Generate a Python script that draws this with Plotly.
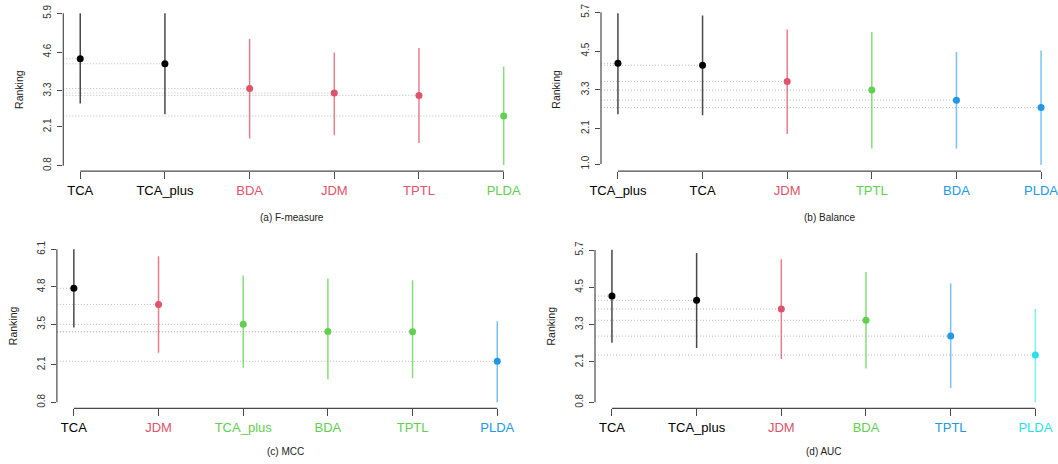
import plotly.graph_objects as go

# ---------------- data ----------------
a_methods = ["TCA", "TCA_plus", "BDA", "JDM", "TPTL", "PLDA"]
a_mean = [4.38, 4.21, 3.38, 3.23, 3.15, 2.46]
a_low = [2.88, 2.52, 1.71, 1.82, 1.56, 0.82]
a_high = [5.90, 5.90, 5.04, 4.59, 4.74, 4.12]
a_group = [1, 1, 2, 2, 2, 3]
a_ticks = ["0.8", "2.1", "3.3", "4.6", "5.9"]

b_methods = ["TCA_plus", "TCA", "JDM", "TPTL", "BDA", "PLDA"]
b_mean = [4.12, 4.06, 3.56, 3.29, 2.98, 2.75]
b_low = [2.54, 2.51, 1.93, 1.48, 1.48, 0.97]
b_high = [5.67, 5.60, 5.17, 5.09, 4.47, 4.52]
b_group = [1, 1, 2, 3, 4, 4]
b_ticks = ["1.0", "2.1", "3.3", "4.5", "5.7"]

c_methods = ["TCA", "JDM", "TCA_plus", "BDA", "TPTL", "PLDA"]
c_mean = [4.75, 4.19, 3.50, 3.25, 3.24, 2.22]
c_low = [3.39, 2.52, 2.00, 1.60, 1.63, 0.80]
c_high = [6.10, 5.86, 5.19, 5.09, 5.03, 3.61]
c_group = [1, 2, 3, 3, 3, 4]
c_ticks = ["0.8", "2.1", "3.5", "4.8", "6.1"]

d_methods = ["TCA", "TCA_plus", "JDM", "BDA", "TPTL", "PLDA"]
d_mean = [4.22, 4.08, 3.80, 3.44, 2.93, 2.32]
d_low = [2.72, 2.55, 2.19, 1.89, 1.26, 0.80]
d_high = [5.71, 5.60, 5.40, 4.99, 4.62, 3.80]
d_group = [1, 1, 2, 3, 4, 5]
d_ticks = ["0.8", "2.1", "3.3", "4.5", "5.7"]

titles = ["(a) F-measure", "(b) Balance", "(c) MCC", "(d) AUC"]
ylabel = "Ranking"

# ---------------- styling ----------------
W, H = 1058, 464
palette = {1: "#000000", 2: "#DF536B", 3: "#61D04F", 4: "#2297E6", 5: "#28E2E5"}
line_rgba = {1: "rgba(40,40,40,0.85)", 2: "rgba(223,83,107,0.75)", 3: "rgba(97,208,79,0.75)",
             4: "rgba(34,151,230,0.6)", 5: "rgba(40,226,229,0.6)"}
FONT = "Liberation Sans, Arial, Helvetica, sans-serif"
AXC = "#4a4a4a"

# panel pixel boxes: (left, width, top, bottom)
boxes = [
    (63.3, 457.3, 7.2, 171.1),
    (601.0, 457.0, 7.2, 171.1),
    (56.9, 457.3, 243.2, 408.4),
    (595.0, 457.3, 243.6, 408.4),
]
title_y = [217.0, 217.0, 451.7, 451.7]

panels = [
    (a_methods, a_mean, a_low, a_high, a_group, a_ticks),
    (b_methods, b_mean, b_low, b_high, b_group, b_ticks),
    (c_methods, c_mean, c_low, c_high, c_group, c_ticks),
    (d_methods, d_mean, d_low, d_high, d_group, d_ticks),
]

fig = go.Figure()
shapes = []
annotations = []
layout = {}

for p, (methods, mean, low, high, group, ticks) in enumerate(panels):
    k = p + 1
    xs = "x" if k == 1 else f"x{k}"
    ys = "y" if k == 1 else f"y{k}"
    xpos = list(range(1, len(methods) + 1))
    lo = min(low)
    hi = max(high)
    r = hi - lo
    yrange = [lo - 0.04 * r, hi + 0.04 * r]
    xrange = [0.8, len(methods) + 0.2]

    # dotted reference lines
    for i, m in enumerate(mean):
        shapes.append(dict(type="line", xref=xs, yref=ys, x0=xrange[0], x1=xpos[i], y0=m, y1=m,
                           line=dict(color="#bdbdbd", width=1, dash="1px,2px"), layer="below"))

    for i in range(len(methods)):
        g = group[i]
        fig.add_trace(go.Scatter(
            x=[xpos[i]], y=[mean[i]], mode="markers",
            marker=dict(color=palette[g], size=7),
            error_y=dict(type="data", symmetric=False,
                         array=[high[i] - mean[i]], arrayminus=[mean[i] - low[i]],
                         color=line_rgba[g], thickness=1.5, width=0),
            xaxis=xs, yaxis=ys, showlegend=False, cliponaxis=False,
        ))

    left, width, top, bottom = boxes[p]
    xdom = [left / W, min(1.0, (left + width) / W)]
    ydom = [1 - bottom / H, 1 - top / H]

    ticktext = [f'<span style="color:{palette[g]}">{m}</span>' for m, g in zip(methods, group)]
    xkey = "xaxis" if k == 1 else f"xaxis{k}"
    ykey = "yaxis" if k == 1 else f"yaxis{k}"
    layout[xkey] = dict(domain=xdom, range=xrange, anchor=ys, tickmode="array",
                        tickvals=xpos, ticktext=ticktext, showgrid=False, zeroline=False,
                        showline=False, ticks="outside", ticklen=7, tickwidth=1, tickcolor=AXC,
                        tickfont=dict(size=13, color="#000", family=FONT), ticklabelstandoff=0,
                        automargin=False, ticklabeloverflow="allow")
    layout[ykey] = dict(domain=ydom, range=yrange, anchor=xs, tickmode="array",
                        tickvals=[float(t) for t in ticks], ticktext=ticks, tickangle=-90,
                        showgrid=False, zeroline=False, showline=False, ticks="outside",
                        ticklen=5, tickwidth=1, tickcolor=AXC,
                        tickfont=dict(size=10, color="#333", family=FONT),
                        ticklabelstandoff=2, automargin=False, ticklabeloverflow="allow")
    # axis lines (R style: from first to last tick)
    shapes.append(dict(type="line", xref=f"{xs} domain", yref=ys, x0=0, x1=0,
                       y0=float(ticks[0]), y1=float(ticks[-1]),
                       line=dict(color=AXC, width=1.2)))
    shapes.append(dict(type="line", xref=xs, yref=f"{ys} domain", x0=xpos[0], x1=xpos[-1],
                       y0=0, y1=0, line=dict(color=AXC, width=1.2)))

    annotations.append(dict(text=titles[p], xref="paper", yref="paper",
                            x=(left + width / 2) / W, y=1 - title_y[p] / H,
                            xanchor="center", yanchor="middle", showarrow=False,
                            font=dict(size=10, color="#222", family=FONT)))
    annotations.append(dict(text=ylabel, xref="paper", yref="paper",
                            x=(left - 44.5) / W, y=1 - (top + bottom) / 2 / H,
                            xanchor="center", yanchor="middle", showarrow=False, textangle=-90,
                            font=dict(size=10.5, color="#222", family=FONT)))

fig.update_layout(
    width=W, height=H, margin=dict(l=0, r=0, t=0, b=0),
    paper_bgcolor="white", plot_bgcolor="white",
    shapes=shapes, annotations=annotations,
    font=dict(family=FONT),
    **layout,
)

fig.write_html("out.html")
